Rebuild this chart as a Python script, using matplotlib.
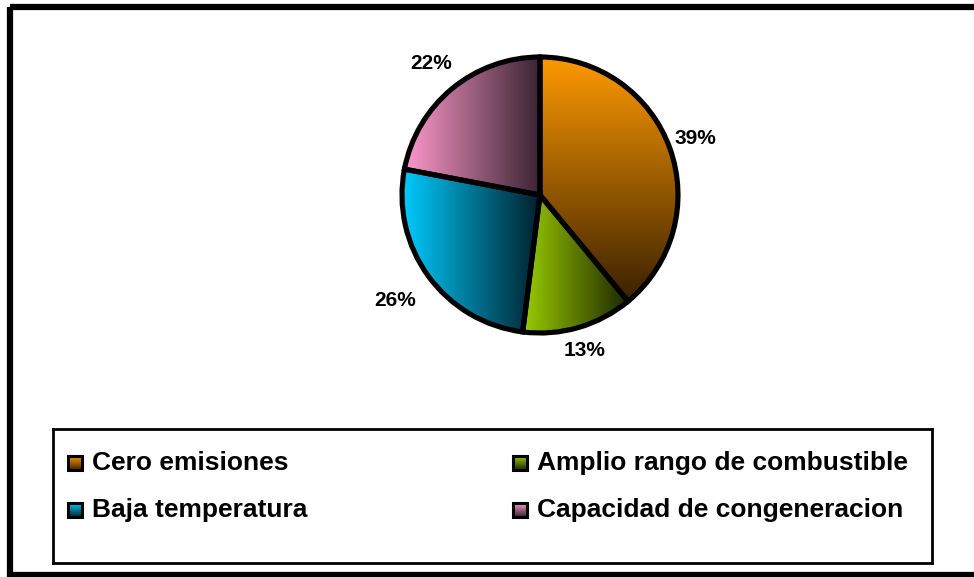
import matplotlib

matplotlib.use("Agg")
import matplotlib.pyplot as plt
import numpy as np
from matplotlib.colors import LinearSegmentedColormap
from matplotlib.patches import Rectangle

plt.rcParams["font.family"] = ["Liberation Sans", "DejaVu Sans"]
plt.rcParams["font.weight"] = "bold"

categories = ["Cero emisiones", "Amplio rango de combustible",
              "Baja temperatura", "Capacidad de congeneracion"]
values = [39, 13, 26, 22]
pct_labels = ["39%", "13%", "26%", "22%"]

# light -> dark gradient per wedge, and its direction
grad_light = ["#ff9a00", "#9acc00", "#00ccff", "#ff99cc"]
grad_dark = ["#3a2000", "#1c2600", "#00202c", "#3a2432"]
grad_dir = ["v", "h", "h", "h"]
label_dist = [1.2, 1.17, 1.3, 1.24]

W, H = 974, 577
fig = plt.figure(figsize=(W / 100, H / 100), dpi=100)

# outer frame
frame = fig.add_axes([0, 0, 1, 1])
frame.set_xlim(0, W)
frame.set_ylim(H, 0)
frame.axis("off")
frame.add_patch(Rectangle((9.5, 6.5), 980, 568, fill=False, lw=4.5, ec="black"))


def fill_gradient(ax, patch, c1, c2, direction, extent):
    cmap = LinearSegmentedColormap.from_list("g", [c1, c2])
    ramp = np.linspace(0, 1, 256)
    if direction == "h":
        img = ramp[np.newaxis, :]
    else:
        img = ramp[:, np.newaxis]
    im = ax.imshow(img, cmap=cmap, extent=extent, origin="upper",
                   aspect="auto", zorder=patch.get_zorder() - 0.1,
                   interpolation="bilinear")
    im.set_clip_path(patch)


# pie
cx, cy, R, box = 540, 195, 138, 190
ax = fig.add_axes([(cx - box) / W, 1 - (cy + box) / H, 2 * box / W, 2 * box / H])
wedges, _ = ax.pie(values, startangle=90, counterclock=False, radius=1,
                   wedgeprops=dict(linewidth=3.7, edgecolor="black", facecolor="none"))
lim = box / R

for w, c1, c2, d, lab, dist in zip(wedges, grad_light, grad_dark, grad_dir,
                                   pct_labels, label_dist):
    w.set_zorder(3)
    bb = w.get_path().get_extents(w.get_patch_transform())
    fill_gradient(ax, w, c1, c2, d, (bb.x0, bb.x1, bb.y0, bb.y1))
    mid = np.deg2rad((w.theta1 + w.theta2) / 2)
    ax.text(dist * np.cos(mid), dist * np.sin(mid), lab, ha="center",
            va="center", fontsize=15, fontweight="bold")
ax.set_xlim(-lim, lim)
ax.set_ylim(-lim, lim)
ax.set_aspect("equal")
ax.axis("off")

# legend box
lx0, ly0, lx1, ly1 = 53, 429, 932, 563
lg = fig.add_axes([lx0 / W, 1 - ly1 / H, (lx1 - lx0) / W, (ly1 - ly0) / H])
lg.set_xlim(lx0, lx1)
lg.set_ylim(ly1, ly0)
lg.set_xticks([])
lg.set_yticks([])
for s in lg.spines.values():
    s.set_linewidth(2)

col_x = [68, 513]
row_y = [463, 510]
for i, (name, c1, c2) in enumerate(zip(categories, grad_light, grad_dark)):
    x = col_x[i % 2]
    y = row_y[i // 2]
    sq = Rectangle((x, y - 7), 14, 14, fill=False, lw=2.2, ec="black", zorder=3)
    lg.add_patch(sq)
    inner = Rectangle((x, y - 7), 14, 14, fc="none", ec="none", zorder=2)
    lg.add_patch(inner)
    fill_gradient(lg, inner, c1, c2, "v", (x, x + 14, y + 7, y - 7))
    lg.text(x + 24, y, name, ha="left", va="center", fontsize=19,
            fontweight="bold")

fig.savefig("out.png", dpi=100)
